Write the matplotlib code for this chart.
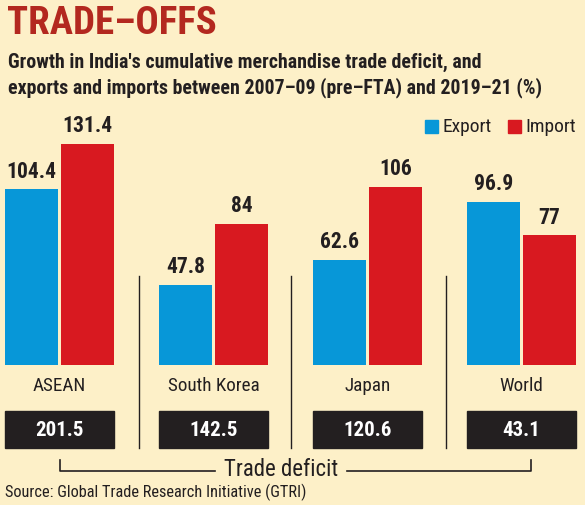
import matplotlib
matplotlib.use("Agg")
import matplotlib.pyplot as plt
from matplotlib import font_manager
from matplotlib.patches import Rectangle
from matplotlib.lines import Line2D

categories = ["ASEAN", "South Korea", "Japan", "World"]
exports = [104.4, 47.8, 62.6, 96.9]
imports = [131.4, 84, 106, 77]
deficit = [201.5, 142.5, 120.6, 43.1]
export_labels = ["104.4", "47.8", "62.6", "96.9"]
import_labels = ["131.4", "84", "106", "77"]
deficit_labels = ["201.5", "142.5", "120.6", "43.1"]

names = {f.name for f in font_manager.fontManager.ttflist}
narrow = None
for cand in ["Liberation Sans Narrow", "DejaVu Sans Condensed", "Roboto Condensed", "Open Sans Condensed"]:
    if cand in names:
        narrow = cand
        break
if narrow is None:
    narrow = "Roboto"
FAM = [narrow, "DejaVu Sans"]
plt.rcParams['font.family'] = FAM

W, H = 585, 505
BG = "#fdf0c8"
BLUE = "#0797d8"
RED = "#d81920"
DARK = "#231f20"
TITLE_RED = "#b3281f"

fig = plt.figure(figsize=(W / 100, H / 100), dpi=100, facecolor=BG)


def fx(px):
    return px / W


def fy(py):
    return 1 - py / H


# Bar axes
spacing = 154.0
c0 = 59.5
base_px = 365
scale = 1.682
ymax = 160
ax = fig.add_axes([0, (H - base_px) / H, 1, ymax * scale / H])
ax.set_xlim(-c0 / spacing, (W - c0) / spacing)
ax.set_ylim(0, ymax)
ax.axis("off")
ax.patch.set_alpha(0)

bw = 53 / spacing
off = 28 / spacing
xs = list(range(len(categories)))
ax.bar([x - off for x in xs], exports, width=bw, color=BLUE)
ax.bar([x + off for x in xs], imports, width=bw, color=RED)
for x, v, t in zip(xs, exports, export_labels):
    ax.text(x - off, v + 4, t, ha="center", va="bottom", fontsize=15.5,
            fontweight="bold", color=DARK)
for x, v, t in zip(xs, imports, import_labels):
    ax.text(x + off, v + 4, t, ha="center", va="bottom", fontsize=15.5,
            fontweight="bold", color=DARK)

# Title
fig.text(fx(7), fy(23), "TRADE–OFFS", fontsize=28, fontweight="heavy",
         color=TITLE_RED, ha="left", va="center")
fig.text(fx(8), fy(62), "Growth in India's cumulative merchandise trade deficit, and",
         fontsize=14.3, fontweight="bold", color=DARK, ha="left", va="center")
fig.text(fx(8), fy(88), "exports and imports between 2007–09 (pre–FTA) and 2019–21 (%)",
         fontsize=14.3, fontweight="bold", color=DARK, ha="left", va="center")

# Legend
fig.add_artist(Rectangle((fx(425), fy(133)), fx(13), 13 / H, color=BLUE,
                         transform=fig.transFigure))
fig.text(fx(442), fy(127), "Export", fontsize=14, color=DARK, ha="left", va="center")
fig.add_artist(Rectangle((fx(508), fy(133)), fx(13), 13 / H, color=RED,
                         transform=fig.transFigure))
fig.text(fx(525), fy(127), "Import", fontsize=14, color=DARK, ha="left", va="center")

# Separators
for sx in [139, 291, 446]:
    fig.add_artist(Line2D([fx(sx), fx(sx)], [fy(276), fy(448)], color=DARK, lw=1,
                          transform=fig.transFigure))

# Category labels and deficit boxes
for i, (cat, dl) in enumerate(zip(categories, deficit_labels)):
    cx = c0 + i * spacing
    fig.text(fx(cx), fy(386), cat, fontsize=13.8, color=DARK, ha="center", va="center")
    fig.add_artist(Rectangle((fx(cx - 54.5), fy(448)), fx(109), 37 / H,
                             color=DARK, transform=fig.transFigure))
    fig.text(fx(cx), fy(430), dl, fontsize=15, fontweight="bold", color="white",
             ha="center", va="center")

# Bracket
fig.add_artist(Line2D([fx(60), fx(60), fx(215)], [fy(460), fy(471), fy(471)],
                      color=DARK, lw=1.2, transform=fig.transFigure))
fig.add_artist(Line2D([fx(347), fx(531), fx(531)], [fy(471), fy(471), fy(460)],
                      color=DARK, lw=1.2, transform=fig.transFigure))
fig.text(fx(281), fy(469), "Trade deficit", fontsize=16.5, color=DARK,
         ha="center", va="center")

# Source
fig.text(fx(5), fy(492), "Source: Global Trade Research Initiative (GTRI)",
         fontsize=11.8, color=DARK, ha="left", va="center")

fig.savefig("out.png", dpi=100, facecolor=BG)
